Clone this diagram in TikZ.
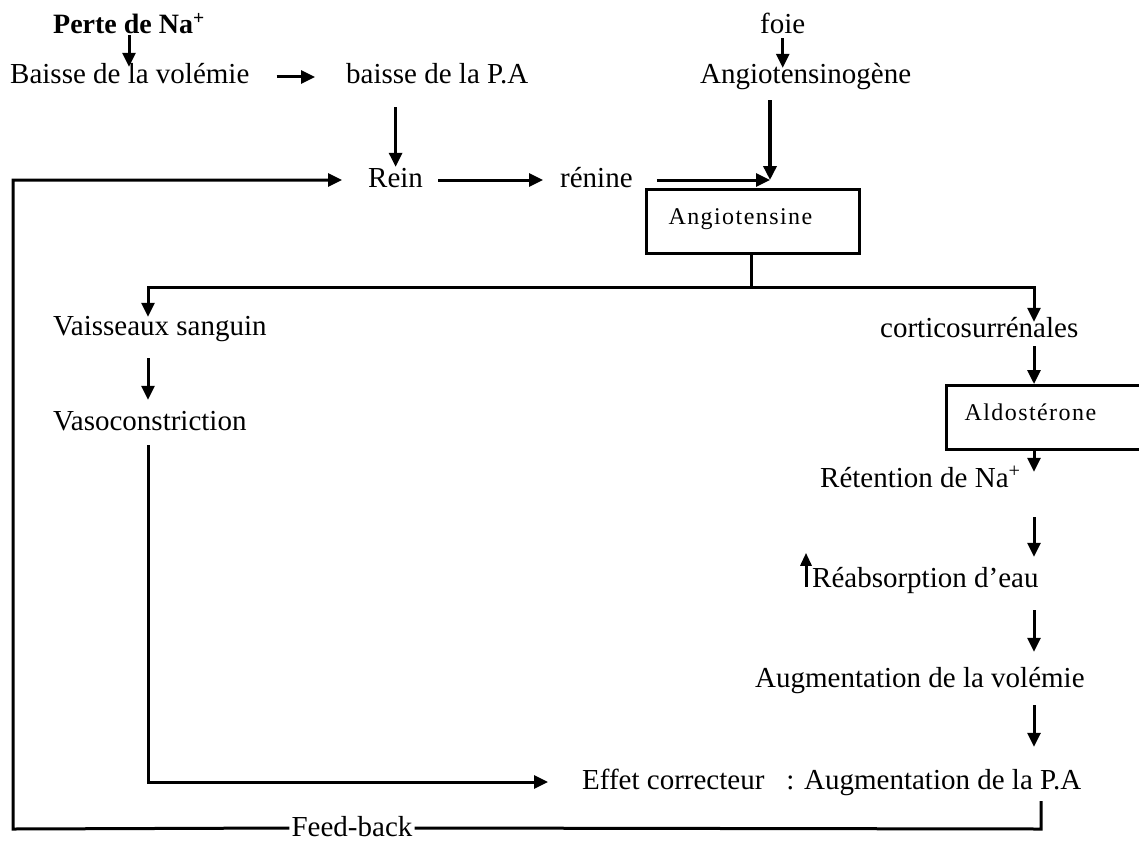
\documentclass[tikz,border=0pt]{standalone}
\usepackage{fontspec}
\setmainfont{Liberation Serif}
\newfontfamily\boitefont[LetterSpace=6]{Liberation Serif}
\usetikzlibrary{arrows.meta}

\tikzset{
  etiq/.style={inner sep=0pt, anchor=west, text height=20pt, text depth=6pt,
    font=\fontsize{29}{34}\selectfont},
  boite/.style={draw, line width=3pt, anchor=north west, minimum height=64pt,
    text height=17pt, text depth=12pt, align=left,
    font=\boitefont\fontsize{24}{28}\selectfont},
  trait/.style={line width=3pt},
  fleche/.style={line width=3pt, -{Triangle[width=13pt,length=14pt]}},
}

\begin{document}
\begin{tikzpicture}[x=1pt,y=-1pt]
\useasboundingbox (0,0) rectangle (1139,840);
\clip (0,0) rectangle (1139,840);

% points de passage
\coordinate (jonction) at (770,180);
\coordinate (branche) at (751,287);
\coordinate (colGauche) at (148,0);
\coordinate (colonne) at (1034,0);
\coordinate (retourBas) at (1041,829);
\coordinate (retourGauche) at (13,829);

% haut du schema
\node[etiq, font=\fontsize{28}{34}\selectfont\bfseries] (perte) at (53,27) {Perte de Na\textsuperscript{+}};
\node[etiq] (baisseVol) at (10,77) {Baisse de la volémie};
\node[etiq] (baissePA) at (346,77) {baisse de la P.A};
\node[etiq] (foie) at (760,27) {foie};
\node[etiq] (angiogene) at (700,77) {Angiotensinogène};
\node[etiq] (rein) at (368,180) {Rein};
\node[etiq] (renine) at (560,180) {rénine};
\node[boite, text width=169pt, inner xsep=22pt] (angio) at (645,188) {Angiotensine};

% branche gauche
\node[etiq] (vaisseaux) at (53,328) {Vaisseaux sanguin};
\node[etiq] (vasocon) at (53,423) {Vasoconstriction};

% branche droite
\node[etiq] (cortico) at (880,330) {corticosurrénales};
\node[boite, text width=168pt, inner xsep=18pt] (aldo) at (945,384) {Aldostérone};
\node[etiq] (retention) at (820,480) {Rétention de Na\textsuperscript{+}};
\node[etiq] (reabs) at (812,580) {Réabsorption d’eau};
\node[etiq] (augVol) at (755,680) {Augmentation de la volémie};
\node[etiq] (effet) at (582,782) {Effet correcteur\hspace{22pt}: Augmentation de la P.A};
\node[etiq, anchor=center, inner xsep=2pt, text height=18pt, text depth=2pt] (feedback) at (352,828) {Feed-back};

% fleches du haut
\draw[fleche, shorten <=-5pt, shorten >=-3pt] (perte.south) -- (perte.south |- baisseVol.north);
\draw[fleche, shorten <=27pt, shorten >=31pt] (baisseVol.east) -- (baissePA.west);
\draw[fleche, shorten <=17pt] (rein.north |- baissePA.south) -- (rein.north);
\draw[fleche, shorten <=15pt, shorten >=17pt] (rein.east) -- (renine.west);
\draw[fleche, shorten <=24pt] (renine.east) -- (jonction);
\draw[fleche, shorten <=-2pt, shorten >=-4pt] (foie.south) -- (foie.south |- angiogene.north);
\draw[fleche, line width=4pt, shorten <=10pt] (angiogene.south -| jonction) -- (jonction);

% partage vers les deux branches
\draw[trait] (angio.south -| branche) -- (branche);
\draw[fleche, shorten >=-2pt] (branche) -| (colGauche |- vaisseaux.north);
\draw[fleche, shorten >=-5pt] (branche) -| (colonne |- cortico.north);

% branche gauche
\draw[fleche, shorten <=17pt, shorten >=10pt] (colGauche |- vaisseaux.south) -- (colGauche |- vasocon.north);
\draw[fleche, shorten <=9pt, shorten >=34pt] (colGauche |- vasocon.south) |- (effet.west);

% branche droite
\draw[fleche, shorten <=3pt] (colonne |- cortico.south) -- (colonne |- aldo.north);
\draw[fleche, shorten >=-5pt] (colonne |- aldo.south) -- (colonne |- retention.north);
\draw[fleche, shorten <=24pt, shorten >=10pt] (colonne |- retention.south) -- (colonne |- reabs.north);
\draw[fleche, -{Triangle[width=11pt,length=13pt]}, shorten <=6pt, shorten >=-14pt] ([xshift=-6pt]reabs.south west) -- ([xshift=-6pt]reabs.north west);
\draw[fleche, shorten <=17pt, shorten >=15pt] (colonne |- reabs.south) -- (colonne |- augVol.north);
\draw[fleche, shorten <=12pt, shorten >=22pt] (colonne |- augVol.south) -- (colonne |- effet.north);

% retour
\draw[trait, shorten <=6pt] (effet.south -| retourBas) -- (retourBas) -- (feedback.east);
\draw[fleche, shorten >=26pt] (feedback.west) -- (retourGauche) |- (rein.west);
\end{tikzpicture}
\end{document}
